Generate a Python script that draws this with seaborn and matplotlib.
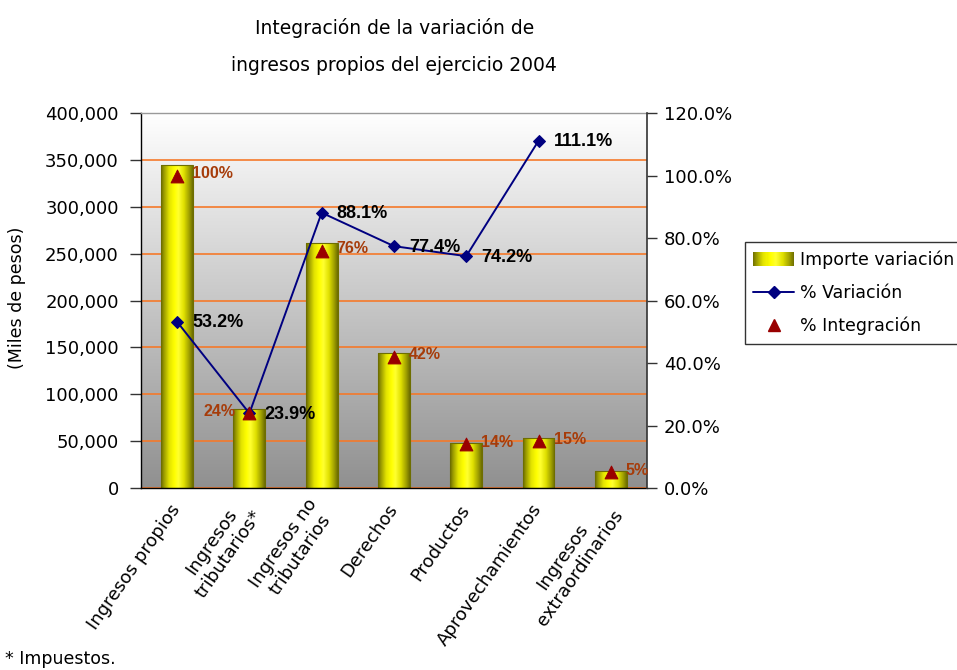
import numpy as np
import pandas as pd
import matplotlib
matplotlib.use("Agg")
import matplotlib.pyplot as plt
import seaborn as sns
from matplotlib.colors import LinearSegmentedColormap
from matplotlib.lines import Line2D
from matplotlib.patches import Rectangle
from matplotlib.legend_handler import HandlerBase
from matplotlib.ticker import FuncFormatter, PercentFormatter

# ---------------- data ----------------
categories = ["Ingresos propios", "Ingresos\ntributarios*", "Ingresos no\ntributarios",
              "Derechos", "Productos", "Aprovechamientos", "Ingresos\nextraordinarios"]
importe = [345000, 84000, 261000, 144000, 48000, 53000, 18000]
variacion = [0.532, 0.239, 0.881, 0.774, 0.742, 1.111, np.nan]
integracion = [1.00, 0.24, 0.76, 0.42, 0.14, 0.15, 0.05]
left_ticks = [0, 50000, 100000, 150000, 200000, 250000, 300000, 350000, 400000]
right_ticks = [0.0, 0.2, 0.4, 0.6, 0.8, 1.0, 1.2]
title = "Integración de la variación de\ningresos propios del ejercicio 2004"
ylabel = "(Miles de pesos)"
footnote = "* Impuestos."
legend_labels = ["Importe variación", "% Variación", "% Integración"]

df = pd.DataFrame({"cat": categories, "importe": importe,
                   "variacion": variacion, "integracion": integracion})
idx = np.arange(len(categories))

# ---------------- style ----------------
sns.set_style("white")
plt.rcParams["font.family"] = ["DejaVu Sans"]
for key in ["text.color", "axes.labelcolor", "xtick.color", "ytick.color"]:
    plt.rcParams[key] = "black"
plt.rcParams["axes.unicode_minus"] = False
LABEL_FONT = ["Liberation Sans", "DejaVu Sans"]

bar_cmap = LinearSegmentedColormap.from_list(
    "bar", [(0.0, "#6E6E00"), (0.1, "#A0A000"), (0.25, "#E2E200"), (0.42, "#FFFF00"),
            (0.55, "#FFFF30"), (0.72, "#E0E000"), (0.88, "#A4A400"), (1.0, "#6E6E00")])
bg_cmap = LinearSegmentedColormap.from_list("bg", ["#FFFFFF", "#909090"])
navy = "#000080"
dred = "#990000"
brown = "#A63C0A"
grid_orange = "#F5792A"

fig = plt.figure(figsize=(9.57, 6.70), dpi=100)
ax = fig.add_axes([0.1473, 0.2716, 0.5287, 0.5597])

# background gradient
ax.patch.set_visible(False)
ax.imshow(np.linspace(0, 1, 256).reshape(-1, 1), extent=[0, 1, 0, 1],
          transform=ax.transAxes, aspect="auto", cmap=bg_cmap, zorder=0,
          interpolation="bilinear")

# bars
sns.barplot(data=df, x="cat", y="importe", ax=ax, width=0.44,
            color="#FFFF00", edgecolor="none", zorder=2)
for p in list(ax.patches):
    x0, w, h = p.get_x(), p.get_width(), p.get_height()
    im = ax.imshow(np.linspace(0, 1, 64).reshape(1, -1), extent=[x0, x0 + w, 0, h],
                   aspect="auto", cmap=bar_cmap, zorder=2.1, interpolation="bilinear")
    im.set_clip_path(p)
    p.set_facecolor("none")
    p.set_edgecolor("#6E6E00")
    p.set_linewidth(0.8)
    p.set_zorder(2.2)

ax.set_xlim(-0.5, len(categories) - 0.5)
ax.set_ylim(left_ticks[0], left_ticks[-1])
ax.set_yticks(left_ticks)
ax.yaxis.set_major_formatter(FuncFormatter(lambda v, pos: f"{v:,.0f}"))
ax.set_axisbelow(True)
ax.yaxis.grid(True, color=grid_orange, lw=1.2)
ax.xaxis.grid(False)

ax.set_xticks(idx)
ax.set_xticklabels(categories, rotation=55, ha="right", va="center",
                   rotation_mode="anchor", multialignment="center", fontsize=13)
ax.tick_params(axis="x", which="major", length=0, pad=13)
ax.set_xticks(np.arange(-0.5, len(categories), 1), minor=True)
ax.tick_params(axis="x", which="minor", length=7, width=1, color="black", direction="out")
ax.tick_params(axis="y", length=8, width=1, color="#333333", direction="out",
               labelsize=13, pad=8, left=True)
ax.set_xlabel("")
ax.set_ylabel(ylabel, fontsize=12.5)
ax.yaxis.set_label_coords(-0.228, 0.507)

for s in ["left", "bottom"]:
    ax.spines[s].set_color("black")
    ax.spines[s].set_linewidth(1)
ax.spines["top"].set_color("#9A9A9A")
ax.spines["top"].set_linewidth(1)
ax.spines["right"].set_visible(False)

# secondary axis
ax2 = ax.twinx()
ax2.set_ylim(right_ticks[0], right_ticks[-1])
ax2.set_yticks(right_ticks)
ax2.yaxis.set_major_formatter(PercentFormatter(xmax=1, decimals=1))
ax2.tick_params(axis="y", length=7, width=1, color="#333333", direction="out",
                labelsize=13, pad=5)
for s in ["left", "top", "bottom"]:
    ax2.spines[s].set_visible(False)
ax2.spines["right"].set_color("#333333")
ax2.spines["right"].set_linewidth(1.2)

sns.lineplot(x=idx, y=df["variacion"], ax=ax2, color=navy, lw=1.4,
             marker="D", markersize=6.5, markeredgecolor=navy, zorder=3, legend=False)
sns.scatterplot(x=idx, y=df["integracion"], ax=ax2, marker="^", s=85,
                color=dred, edgecolor=dred, zorder=4, legend=False)
ax2.set_xlim(-0.5, len(categories) - 0.5)
ax2.set_ylabel("")

for i, v in enumerate(variacion):
    if np.isnan(v):
        continue
    ax2.annotate(f"{v * 100:.1f}%", (i, v), xytext=(15, -1), textcoords="offset pixels",
                 ha="left", va="center", fontsize=13, fontweight="bold",
                 family=LABEL_FONT, color="black", zorder=6)
for i, v in enumerate(integracion):
    left = (not np.isnan(variacion[i])) and abs(v - variacion[i]) < 0.02
    ax2.annotate(f"{v * 100:.0f}%", (i, v), xytext=(-14 if left else 15, 2),
                 textcoords="offset pixels", ha="right" if left else "left",
                 va="center", fontsize=11.5, fontweight="bold",
                 family=LABEL_FONT, color=brown, zorder=6)


# legend
class GradientHandler(HandlerBase):
    def create_artists(self, legend, orig_handle, xdescent, ydescent, width, height,
                       fontsize, trans):
        n = 40
        arts = []
        for k in range(n):
            r = Rectangle((-xdescent + width * k / n, -ydescent - 1), width / n + 0.3,
                          height + 2, facecolor=bar_cmap((k + 0.5) / n),
                          edgecolor="none", transform=trans)
            arts.append(r)
        return arts


bar_handle = Rectangle((0, 0), 1, 1)
line_handle = Line2D([], [], color=navy, marker="D", markersize=6, lw=1.4)
tri_handle = Line2D([], [], color=dred, marker="^", markersize=8, lw=0)
leg = fig.legend([bar_handle, line_handle, tri_handle], legend_labels,
                 handler_map={Rectangle: GradientHandler()},
                 loc="upper left", bbox_to_anchor=(0.778, 0.639),
                 frameon=True, fancybox=False, edgecolor="black", facecolor="white",
                 fontsize=12.5, handlelength=2.35, handletextpad=0.35,
                 labelspacing=0.85, borderpad=0.5, borderaxespad=0)
leg.get_frame().set_linewidth(1)

fig.text(0.412, 0.9306, title, ha="center", va="center", fontsize=13.5,
         linespacing=2.2)
fig.text(0.005, 0.016, footnote, ha="left", va="center", fontsize=12.5)

fig.savefig("out.png", dpi=100)
